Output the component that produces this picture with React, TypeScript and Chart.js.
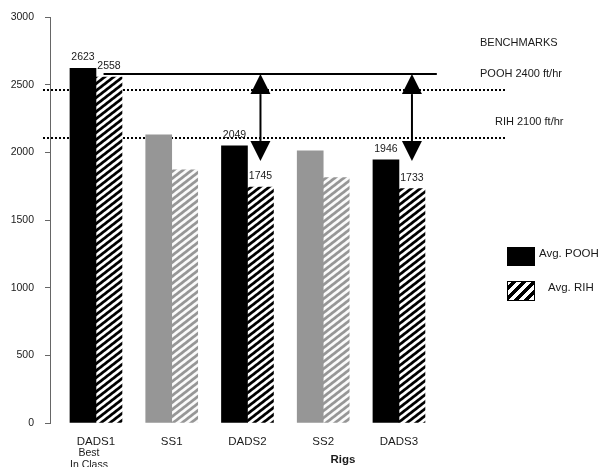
import { useEffect, useRef } from 'react';
import { Chart, registerables } from 'chart.js';

Chart.register(...registerables);

// Rig categories and average tripping speeds (ft/hr)
const RIGS = ['DADS1', 'SS1', 'DADS2', 'SS2', 'DADS3'];
const AVG_POOH = [2623, 2130, 2049, 2012, 1946];
const AVG_RIH = [2558, 1872, 1745, 1815, 1733];
const SERIES_NAMES = ['Avg. POOH', 'Avg. RIH'];
const FIRST_RIG_NOTE = ['Best', 'In Class'];

// Value axis
const Y_MIN = 0;
const Y_MAX = 3000;
const Y_STEP = 500;

// Benchmark reference lines (dotted) and their captions
const BENCH_POOH_LINE = 2460;
const BENCH_RIH_LINE = 2105;
const BENCH_TITLE = 'BENCHMARKS';
const BENCH_POOH_TEXT = 'POOH 2400 ft/hr';
const BENCH_RIH_TEXT = 'RIH 2100 ft/hr';

// Best-in-class level (solid line) spanning the rigs, and gap arrows
const BEST_LEVEL = 2580;
const BEST_FROM = 0.1;
const BEST_TO = 4.5;
const GAP_ARROW_RIGS = [2, 4];
const GAP_ARROW_END = 1938;

const X_TITLE = 'Rigs';
const FONT = "'Liberation Sans', Arial, Helvetica, sans-serif";
const TEXT = '#1a1a1a';

function stripes(w: number, h: number, dark: number[], light: number[], gain: number): CanvasPattern {
  const c = document.createElement('canvas');
  c.width = w;
  c.height = h;
  const ctx = c.getContext('2d')!;
  const img = ctx.createImageData(w, h);
  for (let y = 0; y < h; y++) {
    for (let x = 0; x < w; x++) {
      const phase = x / w + y / h;
      const t = Math.cos(2 * Math.PI * phase);
      const v = Math.max(0, Math.min(1, 0.5 + gain * t));
      const k = (y * w + x) * 4;
      for (let ch = 0; ch < 3; ch++) img.data[k + ch] = Math.round(dark[ch] + (light[ch] - dark[ch]) * v);
      img.data[k + 3] = 255;
    }
  }
  ctx.putImageData(img, 0, 0);
  return ctx.createPattern(c, 'repeat')!;
}

const isDads = (name: string) => name.startsWith('DADS');

export default function App() {
  const ref = useRef<HTMLCanvasElement>(null);

  useEffect(() => {
    const canvas = ref.current!;
    const darkHatch = stripes(9, 7, [0, 0, 0], [255, 255, 255], 0.9);
    const lightHatch = stripes(9, 7, [150, 150, 150], [250, 250, 250], 0.9);
    const legendHatch = stripes(10, 10, [0, 0, 0], [255, 255, 255], 2.5);

    const overlay = {
      id: 'overlay',
      beforeDatasetsDraw(chart: any) {
        const { ctx, chartArea, scales } = chart;
        ctx.save();
        ctx.strokeStyle = '#000';
        ctx.lineWidth = 2;
        ctx.setLineDash([2, 2]);
        [BENCH_POOH_LINE, BENCH_RIH_LINE].forEach((v) => {
          const y = Math.round(scales.y.getPixelForValue(v));
          ctx.beginPath();
          ctx.moveTo(chartArea.left - 7, y);
          ctx.lineTo(chartArea.right, y);
          ctx.stroke();
        });
        ctx.restore();
      },
      afterDatasetsDraw(chart: any) {
        const { ctx, scales } = chart;
        const yBest = scales.y.getPixelForValue(BEST_LEVEL);
        ctx.save();
        // best-in-class level
        ctx.strokeStyle = '#000';
        ctx.lineWidth = 2;
        ctx.beginPath();
        ctx.moveTo(scales.x.getPixelForValue(BEST_FROM), yBest);
        ctx.lineTo(scales.x.getPixelForValue(BEST_TO), yBest);
        ctx.stroke();

        // double-headed gap arrows over the RIH bars
        const rihMeta = chart.getDatasetMeta(1);
        const yEnd = scales.y.getPixelForValue(GAP_ARROW_END);
        GAP_ARROW_RIGS.forEach((i) => {
          const x = rihMeta.data[i].x;
          const head = 20;
          const half = 10;
          ctx.beginPath();
          ctx.moveTo(x, yBest + head);
          ctx.lineTo(x, yEnd - head);
          ctx.stroke();
          ctx.fillStyle = '#000';
          ctx.beginPath();
          ctx.moveTo(x, yBest);
          ctx.lineTo(x - half, yBest + head);
          ctx.lineTo(x + half, yBest + head);
          ctx.closePath();
          ctx.fill();
          ctx.beginPath();
          ctx.moveTo(x, yEnd);
          ctx.lineTo(x - half, yEnd - head);
          ctx.lineTo(x + half, yEnd - head);
          ctx.closePath();
          ctx.fill();
        });

        // value labels on the DADS bars
        ctx.fillStyle = TEXT;
        ctx.font = `10.5px ${FONT}`;
        ctx.textAlign = 'center';
        ctx.textBaseline = 'middle';
        chart.data.datasets.forEach((ds: any, di: number) => {
          const meta = chart.getDatasetMeta(di);
          meta.data.forEach((bar: any, i: number) => {
            if (!isDads(RIGS[i])) return;
            ctx.fillText(String(ds.data[i].y), bar.x, bar.y - 11);
          });
        });
        ctx.restore();
      },
      afterDraw(chart: any) {
        const { ctx, chartArea, scales } = chart;
        ctx.save();
        ctx.fillStyle = TEXT;
        ctx.textBaseline = 'middle';

        // benchmark captions
        ctx.font = `11px ${FONT}`;
        ctx.textAlign = 'left';
        const yP = scales.y.getPixelForValue(BENCH_POOH_LINE);
        const yR = scales.y.getPixelForValue(BENCH_RIH_LINE);
        ctx.fillText(BENCH_TITLE, chartArea.right - 25, 43);
        ctx.fillText(BENCH_POOH_TEXT, chartArea.right - 25, yP - 16);
        ctx.fillText(BENCH_RIH_TEXT, chartArea.right - 10, yR - 16);

        // note under the first rig
        ctx.font = `10.5px ${FONT}`;
        ctx.textAlign = 'center';
        const x0 = scales.x.getPixelForValue(0);
        FIRST_RIG_NOTE.forEach((t, k) => ctx.fillText(t, x0 - 7, 453 + k * 12));

        // axis title
        ctx.font = `bold 11.5px ${FONT}`;
        ctx.fillText(X_TITLE, chartArea.left + 293, 460);

        // legend
        const bx = chartArea.right + 2;
        const boxes = [
          { y: 247, h: 19, fill: '#000', tx: bx + 32 },
          { y: 281, h: 20, fill: legendHatch, tx: bx + 41 },
        ];
        ctx.font = `11.5px ${FONT}`;
        ctx.textAlign = 'left';
        boxes.forEach((b, k) => {
          ctx.fillStyle = b.fill;
          ctx.fillRect(bx, b.y, 28, b.h);
          ctx.strokeStyle = '#000';
          ctx.lineWidth = 1;
          ctx.strokeRect(bx + 0.5, b.y + 0.5, 27, b.h - 1);
          ctx.fillStyle = TEXT;
          ctx.fillText(chart.data.datasets[k].label, b.tx, b.y + 7);
        });
        ctx.restore();
      },
    };

    const chart = new Chart(canvas, {
      type: 'bar',
      data: {
        datasets: [
          {
            label: SERIES_NAMES[0],
            data: AVG_POOH.map((y, i) => ({ x: i, y })),
            backgroundColor: RIGS.map((r) => (isDads(r) ? '#000000' : '#969696')),
            borderWidth: 0,
            barThickness: 26,
          },
          {
            label: SERIES_NAMES[1],
            data: AVG_RIH.map((y, i) => ({ x: i, y })),
            backgroundColor: RIGS.map((r) => (isDads(r) ? darkHatch : lightHatch)),
            borderWidth: 0,
            barThickness: 26,
          },
        ],
      },
      options: {
        responsive: false,
        animation: false,
        devicePixelRatio: 1,
        layout: { padding: { left: 8, top: 16, right: 98, bottom: 0 } },
        plugins: { legend: { display: false }, tooltip: { enabled: false } },
        scales: {
          x: {
            type: 'linear',
            min: -0.607,
            max: 5.4,
            offset: false,
            grid: { display: false, drawTicks: false },
            border: { display: false },
            afterBuildTicks: (s: any) => {
              s.ticks = RIGS.map((_, i) => ({ value: i }));
            },
            afterFit: (s: any) => {
              s.height = 44;
            },
            ticks: {
              autoSkip: false,
              maxRotation: 0,
              padding: 12,
              color: TEXT,
              font: { family: FONT, size: 11.5 },
              callback: (v: any) => RIGS[v] ?? '',
            },
          },
          y: {
            min: Y_MIN,
            max: Y_MAX,
            ticks: {
              stepSize: Y_STEP,
              padding: 11,
              color: TEXT,
              font: { family: FONT, size: 10.5 },
              callback: (v: any) => String(v),
            },
            grid: { drawOnChartArea: false, tickLength: 5, color: '#666' },
            border: { color: '#666' },
            afterFit: (s: any) => {
              s.width = 42;
            },
          },
        },
      },
      plugins: [overlay],
    } as any);

    return () => chart.destroy();
  }, []);

  return (
    <div style={{ position: 'absolute', left: 0, top: 0, width: 603, height: 467, background: '#fff' }}>
      <canvas ref={ref} width={603} height={467} style={{ display: 'block' }} />
    </div>
  );
}
